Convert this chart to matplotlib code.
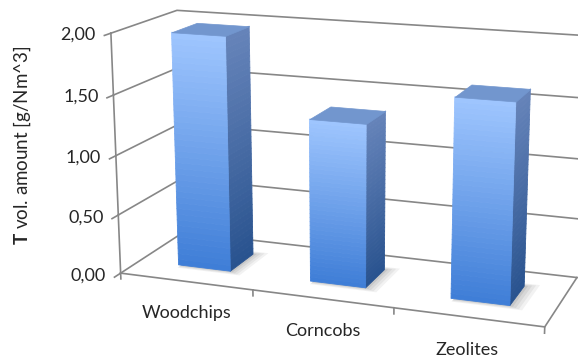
import numpy as np
import matplotlib
matplotlib.use("Agg")
import matplotlib.pyplot as plt
from mpl_toolkits.mplot3d import proj3d
from mpl_toolkits.mplot3d.art3d import Poly3DCollection

# ---- data ----
categories = ["Woodchips", "Corncobs", "Zeolites"]
values = [1.97, 1.35, 1.62]
yticks = [0.0, 0.5, 1.0, 1.5, 2.0]
ytick_labels = ["0,00", "0,50", "1,00", "1,50", "2,00"]
ylabel_bold = "T"
ylabel_rest = " vol. amount [g/Nm^3]"

plt.rcParams['font.family'] = ['Lato', 'DejaVu Sans']
plt.rcParams['mathtext.fontset'] = 'custom'
plt.rcParams['mathtext.bf'] = 'Lato:bold'
plt.rcParams['mathtext.rm'] = 'Lato'

W, H = 578, 356
ncat = len(categories)
zmax = yticks[-1]

fig = plt.figure(figsize=(W / 100, H / 100), dpi=100)
ax = fig.add_axes([0, 0, 1, 1], projection='3d', computed_zorder=False)
ax.set_xlim(0, ncat)
ax.set_ylim(0, 1)
ax.set_zlim(0, zmax)
ax.set_axis_off()
ax.patch.set_alpha(0)

# ---- camera fit to the reference frame (walls/floor outline) ----
LX = 473.0
pt_src = np.array([(0, 0, 0), (1, 0, 0), (2, 0, 0), (3, 0, 0), (0, 0, 2), (0, 1, 2), (3, 1, 0)], float)
pt_tgt = np.array([(119.5, 273), (253.3, 290.5), (394.5, 308.5), (545, 326), (110.7, 33.3), (178, 10), (576, 277.5)], float)
pt_tgt[:, 1] = H - pt_tgt[:, 1]
edge_z = [2.0, 1.5, 1.0, 0.5]
edge_y = [35, 98, 160, 219]

def set_cam(p):
    elev, azim, lf, ly, lz = p
    ax.view_init(elev=elev, azim=azim)
    ax.set_proj_type('persp', focal_length=float(np.exp(lf)))
    ax.set_box_aspect((LX, ly, lz))

def project(pts):
    M = ax.get_proj()
    X, Y, _ = proj3d.proj_transform(pts[:, 0], pts[:, 1], pts[:, 2], M)
    return ax.transData.transform(np.column_stack([X, Y]))

fig.canvas.draw()

def cost(p, ret=False):
    set_cam(p)
    d = project(pt_src)
    dc = d - d.mean(0)
    tc = pt_tgt - pt_tgt.mean(0)
    s = (dc * tc).sum() / (dc * dc).sum()
    t = pt_tgt.mean(0) - s * d.mean(0)
    r = ((s * d + t - pt_tgt) ** 2).sum()
    for z, yy in zip(edge_z, edge_y):
        e = s * project(np.array([(0, 1, z), (3, 1, z)], float)) + t
        f = (578 - e[0, 0]) / (e[1, 0] - e[0, 0])
        yc = e[0, 1] + f * (e[1, 1] - e[0, 1])
        r += (yc - (H - yy)) ** 2
    if ret:
        return r, s, t
    return r

p = np.array([15.0, -63.0, np.log(0.6), 160.0, 248.0])
steps = np.array([4.0, 4.0, 0.4, 40.0, 40.0])
best = cost(p)
for it in range(60):
    improved = False
    for k in range(len(p)):
        for sgn in (1, -1):
            q = p.copy()
            q[k] += sgn * steps[k]
            if k == 2:
                q[k] = min(max(q[k], np.log(0.08)), np.log(20))
            c = cost(q)
            if c < best:
                best, p, improved = c, q, True
                break
    if not improved:
        steps *= 0.5
        if steps.max() < 1e-3:
            break

best, s_fit, t_fit = cost(p, ret=True)
set_cam(p)

grid_c = "#878787"
txt_c = "#262626"

# walls / gridlines
for z in yticks:
    ax.plot([0, 0, ncat], [0, 1, 1], [z, z, z], color=grid_c, lw=1.2, zorder=1)
    ax.plot([0, 0], [0, -0.09], [z, z], color=grid_c, lw=1.2, zorder=1)
ax.plot([0, 0], [0, 0], [0, zmax], color=grid_c, lw=1.2, zorder=1)
ax.plot([0, ncat, ncat], [0, 0, 1], [0, 0, 0], color=grid_c, lw=1.2, zorder=1)
for i in range(ncat + 1):
    ax.plot([i, i], [0, 0], [0, -0.05], color=grid_c, lw=1.2, zorder=1)

# bars
bw = 0.4
bd = 0.4
y0, y1 = 0.5 - bd / 2, 0.5 + bd / 2
front_top = np.array([0x9F, 0xC6, 0xFF]) / 255
front_bot = np.array([0x3E, 0x7D, 0xD6]) / 255
side_top = np.array([0x66, 0x84, 0xBA]) / 255
side_bot = np.array([0x28, 0x52, 0x8E]) / 255
top_c = np.array([0x72, 0x96, 0xCE]) / 255
nstrip = 40
for i, v in enumerate(values):
    xc = i + 0.5
    xa, xb = xc - bw / 2, xc + bw / 2
    for k, a in enumerate([0.05, 0.05, 0.06, 0.07]):
        e = 0.06 - 0.015 * k
        sh = [[(xa + 0.02, y0 - e, 0), (xb + e * 1.6, y0 - e, 0), (xb + e * 1.6, y1 + e, 0), (xa + 0.02, y1 + e, 0)]]
        ax.add_collection3d(Poly3DCollection(sh, facecolor='k', edgecolor='none', alpha=a, zorder=2))
    zs = np.linspace(0, v, nstrip + 1)
    fpolys, fcols, spolys, scols = [], [], [], []
    for j in range(nstrip):
        t = (zs[j] + zs[j + 1]) / 2 / v
        fpolys.append([(xa, y0, zs[j]), (xb, y0, zs[j]), (xb, y0, zs[j + 1]), (xa, y0, zs[j + 1])])
        fcols.append(front_bot + (front_top - front_bot) * t)
        spolys.append([(xb, y0, zs[j]), (xb, y1, zs[j]), (xb, y1, zs[j + 1]), (xb, y0, zs[j + 1])])
        scols.append(side_bot + (side_top - side_bot) * t)
    ax.add_collection3d(Poly3DCollection(spolys, facecolors=scols, edgecolors=scols, linewidths=0.6, zorder=3))
    ax.add_collection3d(Poly3DCollection(fpolys, facecolors=fcols, edgecolors=fcols, linewidths=0.6, zorder=4))
    topp = [[(xa, y0, v), (xb, y0, v), (xb, y1, v), (xa, y1, v)]]
    ax.add_collection3d(Poly3DCollection(topp, facecolors=[top_c], edgecolors=[top_c], linewidths=0.5, zorder=5))

# ---- place the axes according to the fitted similarity ----
bb = ax.get_position().transformed(fig.transFigure)
O = np.array([bb.x0, bb.y0])
O2 = s_fit * O + t_fit
ax.set_position([O2[0] / W, O2[1] / H, s_fit * bb.width / W, bb.height * s_fit / H])
fig.canvas.draw()

# tick labels, anchored at projected 3D positions (drawn as plain figure text)
tick_anchor = project(np.array([(-0.07, -0.08, z) for z in yticks], float))
for (px, py), lab in zip(tick_anchor, ytick_labels):
    fig.text(px / W, py / H, lab, ha='right', va='center', fontsize=13, color=txt_c)
cat_anchor = project(np.array([(i + 0.5, 0, -0.27) for i in range(ncat)], float))
for (px, py), lab in zip(cat_anchor, categories):
    fig.text(px / W, py / H, lab, ha='center', va='center', fontsize=13, color=txt_c)

fig.text(22 / W, 1 - 145 / H, r"$\mathbf{" + ylabel_bold + "}$" + ylabel_rest, rotation=90,
         ha='center', va='center', fontsize=13.5, color=txt_c)

fig.savefig("out.png", dpi=100)
